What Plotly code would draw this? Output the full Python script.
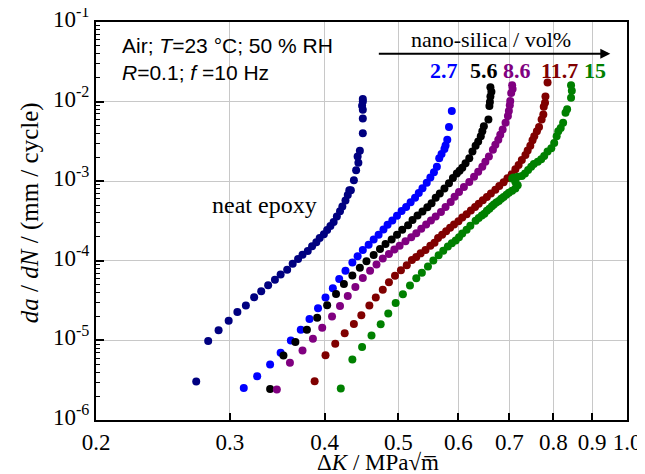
import plotly.graph_objects as go

# neat epoxy
neat_dk = [0.271, 0.281, 0.290, 0.299, 0.307, 0.315, 0.323, 0.330, 0.337, 0.344,
           0.350, 0.357, 0.363, 0.369, 0.374, 0.380, 0.385, 0.390, 0.394, 0.399,
           0.403, 0.407, 0.411, 0.415, 0.419, 0.422, 0.426, 0.429, 0.431, 0.433,
           0.437, 0.440, 0.443, 0.442, 0.445, 0.449, 0.449, 0.449, 0.448, 0.449, 0.449]
neat_rate = [3.05e-6, 9.8e-6, 1.34e-5, 1.76e-5, 2.27e-5, 2.75e-5, 3.48e-5, 4.14e-5, 4.93e-5, 5.77e-5,
             6.74e-5, 7.72e-5, 9.2e-5, 1.05e-4, 1.19e-4, 1.33e-4, 1.52e-4, 1.71e-4, 1.93e-4, 2.16e-4,
             2.43e-4, 2.73e-4, 3.07e-4, 3.59e-4, 4.2e-4, 4.81e-4, 5.73e-4, 6.7e-4, 7.68e-4, 7.67e-4,
             1.03e-3, 1.37e-3, 1.70e-3, 2.04e-3, 2.42e-3, 4.01e-3, 6.15e-3, 7.92e-3, 8.9e-3, 1.0e-2, 1.08e-2]

# 2.7 vol%
s27_dk = [0.313, 0.326, 0.339, 0.350, 0.361, 0.372, 0.382, 0.392, 0.401, 0.410,
          0.418, 0.426, 0.435, 0.442, 0.449, 0.457, 0.464, 0.471, 0.478, 0.484,
          0.491, 0.498, 0.505, 0.512, 0.519, 0.526, 0.532, 0.538, 0.545, 0.551,
          0.557, 0.562, 0.566, 0.570, 0.575, 0.577, 0.580, 0.583, 0.588]
s27_rate = [2.53e-6, 3.55e-6, 4.98e-6, 7.0e-6, 1.0e-5, 1.36e-5, 1.86e-5, 2.53e-5, 3.45e-5, 4.52e-5,
            5.9e-5, 7.5e-5, 9.5e-5, 1.14e-4, 1.37e-4, 1.59e-4, 1.85e-4, 2.13e-4, 2.47e-4, 2.83e-4,
            3.21e-4, 3.67e-4, 4.21e-4, 4.73e-4, 5.42e-4, 6.21e-4, 7.12e-4, 8.16e-4, 9.53e-4, 1.11e-3,
            1.30e-3, 1.52e-3, 1.94e-3, 2.2e-3, 2.53e-3, 2.8e-3, 3.32e-3, 4.8e-3, 7.6e-3]

# 5.6 vol%
s56_dk = [0.339, 0.353, 0.366, 0.379, 0.391, 0.403, 0.414, 0.424, 0.435, 0.445,
          0.454, 0.464, 0.473, 0.481, 0.490, 0.498, 0.506, 0.515, 0.522, 0.530,
          0.538, 0.546, 0.553, 0.560, 0.567, 0.575, 0.583, 0.590, 0.597, 0.602,
          0.607, 0.613, 0.620, 0.626, 0.632, 0.637, 0.642, 0.645, 0.648, 0.657,
          0.659, 0.660, 0.661, 0.663, 0.661]
s56_rate = [2.46e-6, 6.47e-6, 9.53e-6, 1.36e-5, 1.93e-5, 2.77e-5, 3.83e-5, 5.1e-5, 6.55e-5, 8.15e-5,
            9.9e-5, 1.18e-4, 1.41e-4, 1.63e-4, 1.85e-4, 2.13e-4, 2.45e-4, 2.8e-4, 3.25e-4, 3.7e-4,
            4.15e-4, 4.7e-4, 5.3e-4, 6.2e-4, 7.0e-4, 8.1e-4, 9.4e-4, 1.1e-3, 1.25e-3, 1.35e-3,
            1.48e-3, 1.68e-3, 1.94e-3, 2.36e-3, 2.79e-3, 3.16e-3, 3.66e-3, 4.24e-3, 4.91e-3, 5.96e-3,
            8.8e-3, 9.9e-3, 1.16e-2, 1.33e-2, 1.51e-2]

# 8.6 vol%
s86_dk = [0.346, 0.360, 0.374, 0.386, 0.397, 0.409, 0.419, 0.429, 0.439, 0.449,
          0.459, 0.468, 0.477, 0.486, 0.494, 0.502, 0.511, 0.520, 0.528, 0.536,
          0.544, 0.552, 0.560, 0.569, 0.577, 0.586, 0.593, 0.601, 0.610, 0.620,
          0.629, 0.637, 0.645, 0.651, 0.658, 0.666, 0.671, 0.677, 0.681, 0.686,
          0.692, 0.697, 0.699, 0.701, 0.702, 0.704, 0.707, 0.706]
s86_rate = [2.41e-6, 5.22e-6, 7.48e-6, 1.05e-5, 1.445e-5, 1.99e-5, 2.7e-5, 3.6e-5, 4.7e-5, 6.1e-5,
            7.5e-5, 9.0e-5, 1.07e-4, 1.22e-4, 1.39e-4, 1.55e-4, 1.76e-4, 1.97e-4, 2.22e-4, 2.52e-4,
            2.86e-4, 3.21e-4, 3.6e-4, 4.09e-4, 4.73e-4, 5.48e-4, 6.4e-4, 7.33e-4, 8.47e-4, 9.8e-4,
            1.135e-3, 1.31e-3, 1.52e-3, 1.76e-3, 2.04e-3, 2.48e-3, 2.87e-3, 3.32e-3, 3.84e-3, 4.45e-3,
            5.41e-3, 6.57e-3, 7.61e-3, 8.98e-3, 1.02e-2, 1.28e-2, 1.44e-2, 1.61e-2]

# 11.7 vol%
s117_dk = [0.388, 0.401, 0.413, 0.425, 0.437, 0.447, 0.458, 0.467, 0.477, 0.486,
           0.495, 0.504, 0.513, 0.521, 0.528, 0.535, 0.543, 0.551, 0.558, 0.564,
           0.571, 0.578, 0.585, 0.592, 0.600, 0.607, 0.615, 0.623, 0.631, 0.638,
           0.646, 0.654, 0.662, 0.671, 0.679, 0.688, 0.696, 0.705, 0.713, 0.720,
           0.727, 0.735, 0.740, 0.746, 0.751, 0.755, 0.761, 0.766, 0.772, 0.776,
           0.777, 0.780, 0.781, 0.786]
s117_rate = [3.07e-6, 6.53e-6, 9.08e-6, 1.23e-5, 1.61e-5, 2.07e-5, 2.75e-5, 3.47e-5, 4.33e-5, 5.37e-5,
             6.5e-5, 7.61e-5, 8.81e-5, 1.02e-4, 1.12e-4, 1.24e-4, 1.37e-4, 1.55e-4, 1.69e-4, 1.93e-4,
             2.12e-4, 2.35e-4, 2.6e-4, 2.85e-4, 3.15e-4, 3.5e-4, 3.85e-4, 4.3e-4, 4.75e-4, 5.2e-4,
             5.75e-4, 6.35e-4, 7.0e-4, 7.83e-4, 8.7e-4, 9.7e-4, 1.09e-3, 1.22e-3, 1.41e-3, 1.60e-3,
             1.85e-3, 2.14e-3, 2.43e-3, 2.79e-3, 3.26e-3, 3.66e-3, 4.24e-3, 4.81e-3, 5.96e-3, 6.9e-3,
             8.64e-3, 9.7e-3, 1.16e-2, 1.74e-2]

# 15 vol%
s15_dk = [0.420, 0.435, 0.448, 0.461, 0.474, 0.485, 0.496, 0.507, 0.518, 0.528,
          0.537, 0.547, 0.556, 0.565, 0.573, 0.581, 0.588, 0.595, 0.601, 0.607,
          0.615, 0.622, 0.632, 0.638, 0.644, 0.649, 0.654, 0.659, 0.664, 0.668,
          0.673, 0.678, 0.683, 0.688, 0.694, 0.699, 0.706, 0.713, 0.718, 0.713,
          0.706, 0.709, 0.718, 0.727, 0.734, 0.741, 0.748, 0.754, 0.763, 0.771,
          0.778, 0.786, 0.795, 0.802, 0.808, 0.812, 0.818, 0.824, 0.830, 0.834,
          0.844, 0.846, 0.844]
s15_rate = [2.48e-6, 5.76e-6, 8.24e-6, 1.15e-5, 1.6e-5, 2.18e-5, 2.94e-5, 3.8e-5, 4.9e-5, 6.05e-5,
            7.1e-5, 8.5e-5, 1.01e-4, 1.17e-4, 1.34e-4, 1.51e-4, 1.66e-4, 1.8e-4, 1.98e-4, 2.2e-4,
            2.45e-4, 2.75e-4, 3.19e-4, 3.45e-4, 3.7e-4, 3.9e-4, 4.25e-4, 4.5e-4, 4.85e-4, 5.1e-4,
            5.4e-4, 5.65e-4, 6.0e-4, 6.35e-4, 6.75e-4, 7.15e-4, 7.6e-4, 8.1e-4, 8.9e-4, 9.8e-4,
            1.08e-3, 1.11e-3, 1.135e-3, 1.16e-3, 1.25e-3, 1.38e-3, 1.52e-3, 1.64e-3, 1.76e-3, 1.89e-3,
            2.08e-3, 2.36e-3, 2.6e-3, 3.01e-3, 3.66e-3, 4.24e-3, 4.67e-3, 5.41e-3, 7.25e-3, 7.99e-3,
            1.12e-2, 1.37e-2, 1.61e-2]

series = [
    ("neat epoxy", neat_dk, neat_rate, "#000080"),
    ("2.7", s27_dk, s27_rate, "#0000ff"),
    ("5.6", s56_dk, s56_rate, "#000000"),
    ("8.6", s86_dk, s86_rate, "#800080"),
    ("11.7", s117_dk, s117_rate, "#800000"),
    ("15", s15_dk, s15_rate, "#008000"),
]

x_ticks = [0.2, 0.3, 0.4, 0.5, 0.6, 0.7, 0.8, 0.9, 1.0]
x_ticktext = ["0.2", "0.3", "0.4", "0.5", "0.6", "0.7", "0.8", "0.9", "1.0"]
y_ticks = [1e-6, 1e-5, 1e-4, 1e-3, 1e-2, 1e-1]
y_ticktext = ["10<sup>-6</sup>", "10<sup>-5</sup>", "10<sup>-4</sup>",
              "10<sup>-3</sup>", "10<sup>-2</sup>", "10<sup>-1</sup>"]

SERIF = "Liberation Serif, Times New Roman, serif"
SANS = "Liberation Sans, Arial, sans-serif"

fig = go.Figure()
for name, dk, rate, color in series:
    fig.add_trace(go.Scatter(x=dk, y=rate, mode="markers", name=name,
                             marker=dict(size=8, color=color, line=dict(width=0))))

fig.update_xaxes(type="log", range=[-0.69897, 0], tickvals=x_ticks, ticktext=x_ticktext,
                 showgrid=True, gridcolor="#c8c8c8", gridwidth=1, automargin=False,
                 ticklabeloverflow="allow",
                 ticks="inside", ticklen=7, tickwidth=1.5, tickcolor="black",
                 showline=True, linecolor="black", linewidth=2, mirror=True,
                 tickfont=dict(family=SERIF, size=23, color="black"), zeroline=False)
fig.update_yaxes(type="log", range=[-6, -1], tickvals=y_ticks, ticktext=y_ticktext,
                 showgrid=True, gridcolor="#c8c8c8", gridwidth=1, automargin=False,
                 ticklabeloverflow="allow", ticklabelshift=-3,
                 ticks="inside", ticklen=8, tickwidth=1.5, tickcolor="black",
                 minor=dict(ticks="inside", ticklen=4, tickcolor="black", tickwidth=1,
                            dtick="D1", showgrid=False),
                 showline=True, linecolor="black", linewidth=2, mirror=True,
                 tickfont=dict(family=SERIF, size=23, color="black"), zeroline=False)

annotations = [
    dict(text="<i>da</i> / <i>dN</i> / (mm / cycle)", x=-0.124, y=0.52, textangle=-90,
         font=dict(family=SERIF, size=25)),
    dict(text="Δ<i>K</i> / MPa√m\u0305", x=0.531, y=-0.108,
         font=dict(family=SERIF, size=23)),
    dict(text="Air; <i>T</i>=23 °C; 50 % RH", x=0.045, y=0.940, xanchor="left",
         font=dict(family=SANS, size=21)),
    dict(text="<i>R</i>=0.1; <i>f</i> =10 Hz", x=0.045, y=0.872, xanchor="left",
         font=dict(family=SANS, size=21)),
    dict(text="nano-silica / vol%", x=0.743, y=0.955, font=dict(family=SERIF, size=22)),
    dict(text="neat epoxy", x=0.318, y=0.54, font=dict(family=SERIF, size=24)),
]
label_x = {"2.7": 0.655, "5.6": 0.730, "8.6": 0.793, "11.7": 0.872, "15": 0.939}
for name, dk, rate, color in series[1:]:
    annotations.append(dict(text="<b>%s</b>" % name, x=label_x[name], y=0.879,
                            font=dict(family=SERIF, size=22, color=color)))

for a in annotations:
    a.setdefault("xref", "paper")
    a.setdefault("yref", "paper")
    a.setdefault("xanchor", "center")
    a.setdefault("yanchor", "middle")
    a.setdefault("showarrow", False)
    a["font"].setdefault("color", "black")
    fig.add_annotation(**a)

# composition arrow
fig.add_annotation(x=0.9686, y=0.920, xref="paper", yref="paper", ax=-233, ay=0,
                   showarrow=True, arrowhead=2, arrowsize=1, arrowwidth=2, arrowcolor="black", text="")

# page body has an 8 px margin, so the figure is a little smaller than the window
fig.update_layout(width=637, height=466, margin=dict(l=88, r=18, t=14, b=54),
                  plot_bgcolor="white", paper_bgcolor="white", showlegend=False)

fig.write_html("out.html")
